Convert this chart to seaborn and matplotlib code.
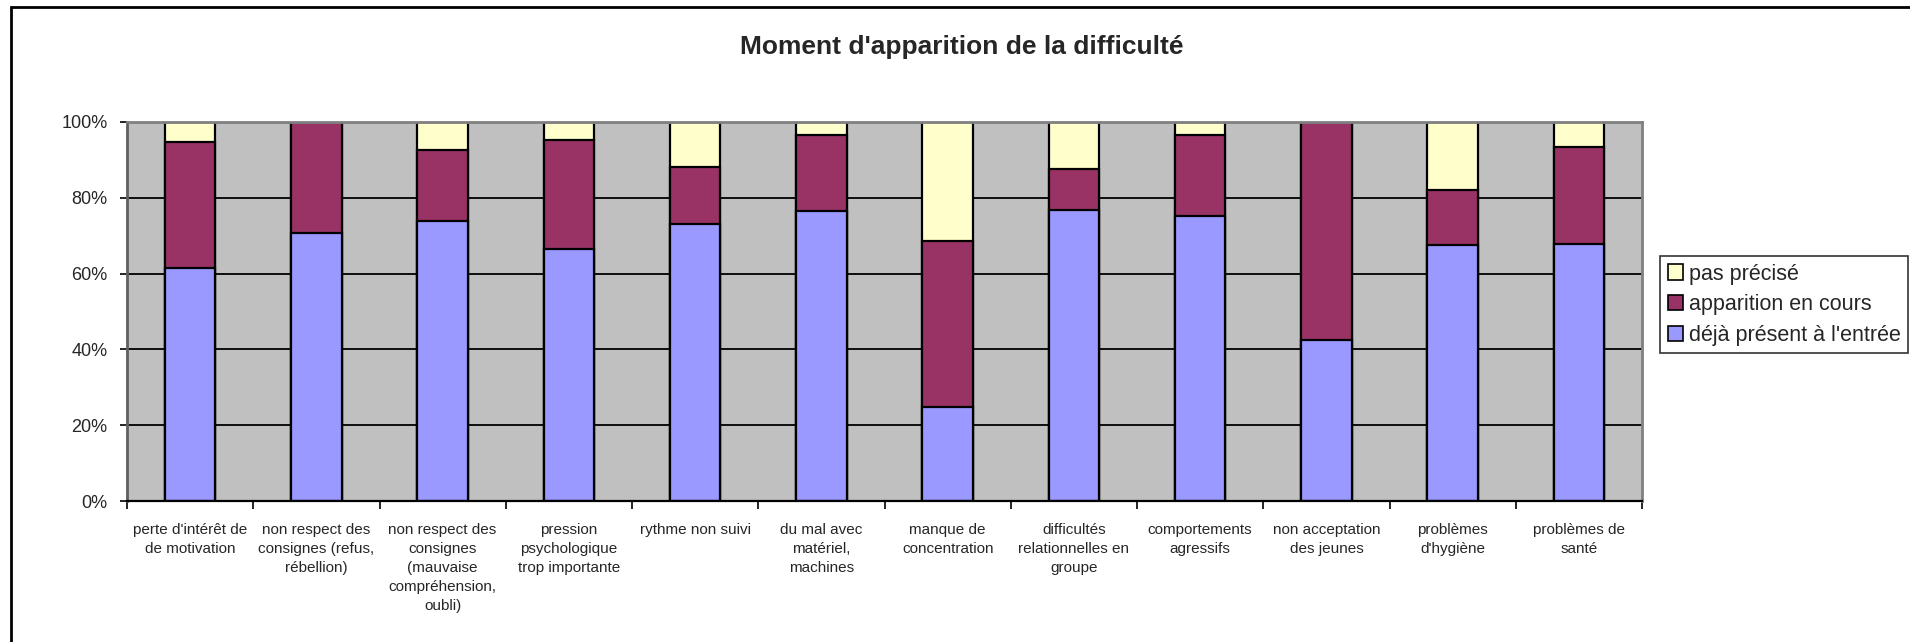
import matplotlib
matplotlib.use("Agg")
import matplotlib.pyplot as plt
import seaborn as sns
import numpy as np
from matplotlib.patches import Rectangle, Patch
from matplotlib.ticker import FixedLocator, FuncFormatter

categories = [
    "perte d'intérêt de\nde motivation",
    "non respect des\nconsignes (refus,\nrébellion)",
    "non respect des\nconsignes\n(mauvaise\ncompréhension,\noubli)",
    "pression\npsychologique\ntrop importante",
    "rythme non suivi",
    "du mal avec\nmatériel,\nmachines",
    "manque de\nconcentration",
    "difficultés\nrelationnelles en\ngroupe",
    "comportements\nagressifs",
    "non acceptation\ndes jeunes",
    "problèmes\nd'hygiène",
    "problèmes de\nsanté",
]
deja_present = [61.4, 70.8, 74.0, 66.6, 73.2, 76.5, 24.7, 76.8, 75.1, 42.6, 67.6, 67.9]
apparition = [33.3, 29.2, 18.5, 28.7, 15.0, 20.1, 43.8, 10.9, 21.6, 57.4, 14.5, 25.4]
pas_precise = [5.3, 0.0, 7.5, 4.7, 11.8, 3.4, 31.5, 12.3, 3.3, 0.0, 17.9, 6.7]
series_names = ["pas précisé", "apparition en cours", "déjà présent à l'entrée"]
title = "Moment d'apparition de la difficulté"
yticks = [0, 20, 40, 60, 80, 100]

sns.set_theme(style="white")
plt.rcParams["font.family"] = ["Liberation Sans", "DejaVu Sans"]

c_blue = "#9999FF"
c_maroon = "#993366"
c_yellow = "#FFFFCC"

fig = plt.figure(figsize=(19.10, 6.42), dpi=100)
ax = fig.add_axes([127 / 1910, 1 - 501 / 642, 1515 / 1910, 379 / 642])
ax.set_facecolor("#C0C0C0")

b = np.array(deja_present)
m = np.array(apparition)
y = np.array(pas_precise)
layers = [(b + m + y, c_yellow), (b + m, c_maroon), (b, c_blue)]
for vals, col in layers:
    sns.barplot(x=categories, y=vals, color=col, saturation=1, width=0.4,
                edgecolor="black", linewidth=1.6, ax=ax, order=categories,
                errorbar=None)

ax.set_ylim(0, 100)
ax.set_xlim(-0.5, len(categories) - 0.5)
ax.yaxis.set_major_locator(FixedLocator(yticks))
ax.yaxis.set_major_formatter(FuncFormatter(lambda v, p: f"{int(v)}%"))
ax.yaxis.grid(True, color="black", linewidth=1.3)
ax.set_axisbelow(True)
ax.set_xlabel("")
ax.set_ylabel("")

ax.tick_params(axis="y", which="major", direction="out", length=5, width=1.2,
               color="black", labelsize=13, pad=9, left=True)
ax.tick_params(axis="x", which="major", length=0, labelsize=11, pad=16)
ax.set_xticks(range(len(categories)))
ax.set_xticklabels(categories, linespacing=1.45)
ax.xaxis.set_minor_locator(FixedLocator(np.arange(-0.5, len(categories), 1.0)))
ax.tick_params(axis="x", which="minor", direction="out", length=6, width=1.2,
               color="black", bottom=True)

for side in ["top", "right", "left"]:
    ax.spines[side].set_color("#808080")
    ax.spines[side].set_linewidth(2)
ax.spines["left"].set_color("#606060")
ax.spines["bottom"].set_color("black")
ax.spines["bottom"].set_linewidth(1.6)

fig.text(962 / 1910, 1 - 47 / 642, title, ha="center", va="center",
         fontsize=19, fontweight="bold")

handles = [Patch(facecolor=c_yellow, edgecolor="black", linewidth=1.2),
           Patch(facecolor=c_maroon, edgecolor="black", linewidth=1.2),
           Patch(facecolor=c_blue, edgecolor="black", linewidth=1.2)]
leg = fig.legend(handles, series_names, loc="upper left",
                 bbox_to_anchor=(1660 / 1910, 1 - 256 / 642),
                 fontsize=15.5, frameon=True, fancybox=False,
                 handlelength=0.7, handleheight=0.7, handletextpad=0.3,
                 borderpad=0.35, labelspacing=0.45, borderaxespad=0)
leg.get_frame().set_edgecolor("black")
leg.get_frame().set_linewidth(1.2)

fig.add_artist(Rectangle((11 / 1910, -0.1), 1.2, 0.1 + 1 - 7 / 642,
                         transform=fig.transFigure, fill=False,
                         edgecolor="black", linewidth=2, clip_on=False))

fig.savefig("out.png", dpi=100)
